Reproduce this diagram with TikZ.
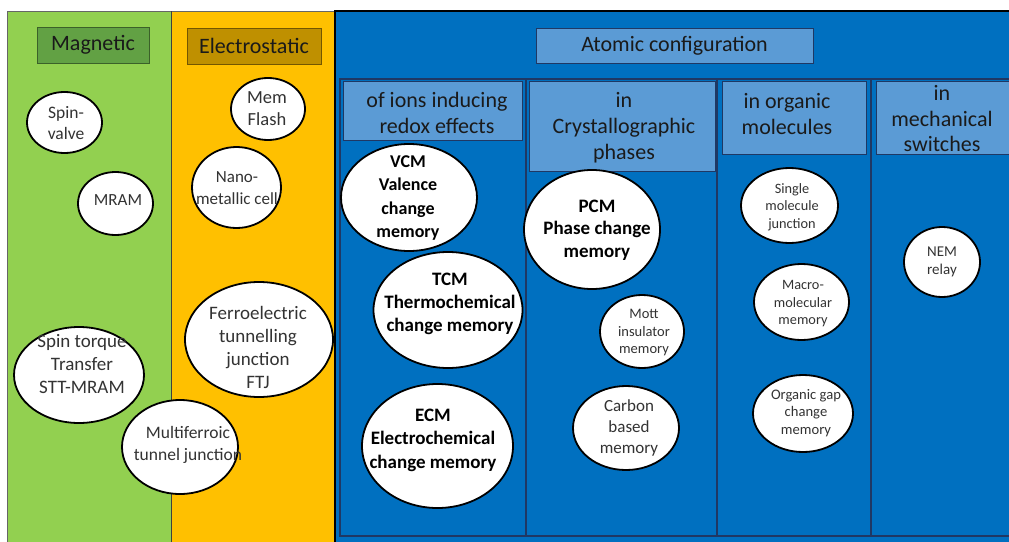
\documentclass[tikz,border=0pt]{standalone}
\usepackage{fontspec}
\setmainfont{Carlito}
\usetikzlibrary{shapes.geometric}

\definecolor{magGreen}{HTML}{92D050}
\definecolor{magDark}{HTML}{62A144}
\definecolor{elecOrange}{HTML}{FFC000}
\definecolor{elecDark}{HTML}{BF9000}
\definecolor{atomBlue}{HTML}{0070C0}
\definecolor{atomLight}{HTML}{5B9BD5}
\definecolor{navy}{HTML}{1F3864}
\definecolor{inkgray}{HTML}{333333}
\definecolor{ink}{HTML}{1A1A1A}

\begin{document}
\begin{tikzpicture}[x=1pt, y=-1pt,
  hdr/.style={draw, line width=0.9pt, inner sep=0pt, align=center, text=ink,
    font=\fontsize{22}{26}\selectfont},
  bubble/.style={ellipse, draw=black, line width=1.8pt, fill=white, inner sep=0pt},
  btxt/.style={inner sep=0pt, align=center, text=inkgray},
  bbold/.style={inner sep=0pt, align=center, text=black}]

\useasboundingbox (0,0) rectangle (1009,541);
\clip (0,0) rectangle (1009,541);

% ---- three main regions ----
\fill[magGreen]   (7,11)   rectangle (171,545);
\fill[elecOrange] (171,11) rectangle (335,545);
\fill[atomBlue]   (335,11) rectangle (1015,545);
\draw[black!60, line width=0.9pt] (7,545) -- (7,11) -- (335,11);
\draw[black!75, line width=0.9pt] (171,11) -- (171,545);
\draw[black, line width=2.6pt] (335,545) -- (335,11) -- (1015,11);

% ---- sub-columns of the atomic configuration region ----
\draw[navy, line width=1.2pt] (340,79) rectangle (526,536);
\draw[navy, line width=1.2pt] (526,79) rectangle (717,536);
\draw[navy, line width=1.2pt] (717,79) rectangle (871,536);
\draw[navy, line width=1.2pt] (871,79) rectangle (1020,536);

% ---- headers ----
\node[hdr, draw=magDark!60!black, fill=magDark, minimum width=112, minimum height=36] (magnetic) at (93,45) {Magnetic};
\node[hdr, draw=elecDark!60!black, fill=elecDark, minimum width=134, minimum height=36] (electro) at (254,46) {Electrostatic};
\node[hdr, draw=navy, fill=atomLight, minimum width=277, minimum height=35] (atomic) at (674.5,45.5) {Atomic configuration};
\node[hdr, draw=navy, fill=atomLight, minimum width=179, minimum height=59] (ions) at (432.5,110.5) {};
\node[hdr, draw=none] (ions-t) at (437,113) {of ions inducing\\redox effects};
\node[hdr, draw=navy, fill=atomLight, minimum width=186, minimum height=90] (crystal) at (622,126) {};
\node[hdr, draw=none] (crystal-t) at (624,128) {in\\Crystallographic\\phases};
\node[hdr, draw=navy, fill=atomLight, minimum width=144, minimum height=73] (organic) at (794,117.5) {};
\node[hdr, draw=none] (organic-t) at (787,114) {in organic\\molecules};
\node[hdr, draw=navy, fill=atomLight, minimum width=140, minimum height=73] (mech) at (946,117.5) {};
\node[hdr, draw=none, font=\fontsize{22}{25.5}\selectfont] (mech-t) at (942,119) {in\\mechanical\\switches};

% ---- magnetic devices ----
\node[bubble, minimum width=75, minimum height=61] (spinvalve) at (64.5,122.5) {};
\node[btxt, font=\fontsize{17.5}{21.5}\selectfont] (spinvalve-t) at (66,123) {Spin-\\valve};
\node[bubble, minimum width=75, minimum height=63] (mram) at (115.5,203.5) {};
\node[btxt, font=\fontsize{17}{21}\selectfont] (mram-t) at (118,200) {MRAM};
\node[bubble, minimum width=130, minimum height=96] (stt) at (79,375) {};
\node[btxt, font=\fontsize{19}{23}\selectfont] (stt-t) at (82,364) {Spin torque\\Transfer\\STT-MRAM};

% ---- electrostatic devices ----
\node[bubble, minimum width=74, minimum height=62] (memflash) at (268,109) {};
\node[btxt, font=\fontsize{18.5}{22}\selectfont] (memflash-t) at (267,109) {Mem\\Flash};
\node[bubble, minimum width=89, minimum height=81] (nano) at (236.5,187.5) {};
\node[btxt, font=\fontsize{17}{22}\selectfont] (nano-t) at (237,188) {Nano-\\metallic cell};
\node[bubble, minimum width=148, minimum height=115] (ftj) at (259,339.5) {};
\node[btxt, font=\fontsize{19}{23}\selectfont] (ftj-t) at (258,347) {Ferroelectric\\tunnelling\\junction\\FTJ};

% ---- device straddling both regions ----
\node[bubble, minimum width=116, minimum height=94] (mftj) at (180,447) {};
\node[btxt, font=\fontsize{17.5}{21.5}\selectfont] (mftj-t) at (188,445) {Multiferroic\\tunnel junction};

% ---- ion-driven redox memories ----
\node[bubble, minimum width=136, minimum height=107] (vcm) at (409,197.5) {};
\node[bbold, font=\bfseries\fontsize{18}{23.5}\selectfont] (vcm-t) at (408,198) {VCM\\Valence\\change\\memory};
\node[bubble, minimum width=149, minimum height=116] (tcm) at (448,310) {};
\node[bbold, font=\bfseries\fontsize{19}{23}\selectfont] (tcm-t) at (450,304) {TCM\\Thermochemical\\change memory};
\node[bubble, minimum width=151, minimum height=124] (ecm) at (437.5,446) {};
\node[bbold, font=\bfseries\fontsize{19}{23.5}\selectfont] (ecm-t) at (433,440) {ECM\\Electrochemical\\change memory};

% ---- crystallographic phase memories ----
\node[bubble, minimum width=136, minimum height=119] (pcm) at (592,229.5) {};
\node[bbold, font=\bfseries\fontsize{19}{22.5}\selectfont] (pcm-t) at (597,230) {PCM\\Phase change\\memory};
\node[bubble, minimum width=84, minimum height=73] (mott) at (642,331.5) {};
\node[btxt, font=\fontsize{14.5}{17.5}\selectfont] (mott-t) at (644,333) {Mott\\insulator\\memory};
\node[bubble, minimum width=106, minimum height=84] (carbon) at (626,428) {};
\node[btxt, font=\fontsize{17}{21}\selectfont] (carbon-t) at (629,428) {Carbon\\based\\memory};

% ---- organic molecule memories ----
\node[bubble, minimum width=97, minimum height=75] (single) at (789.5,205.5) {};
\node[btxt, font=\fontsize{14.3}{17.5}\selectfont] (single-t) at (792,207) {Single\\molecule\\junction};
\node[bubble, minimum width=95, minimum height=76] (macro) at (801.5,302) {};
\node[btxt, font=\fontsize{14.3}{17.5}\selectfont] (macro-t) at (803,304) {Macro-\\molecular\\memory};
\node[bubble, minimum width=100, minimum height=77] (ogap) at (803,413.5) {};
\node[btxt, font=\fontsize{14.6}{17.5}\selectfont] (ogap-t) at (806,413) {Organic gap\\change\\memory};

% ---- mechanical switch ----
\node[bubble, minimum width=76, minimum height=70] (nem) at (942,262) {};
\node[btxt, font=\fontsize{15}{18}\selectfont] (nem-t) at (942,262) {NEM\\relay};

\end{tikzpicture}
\end{document}
